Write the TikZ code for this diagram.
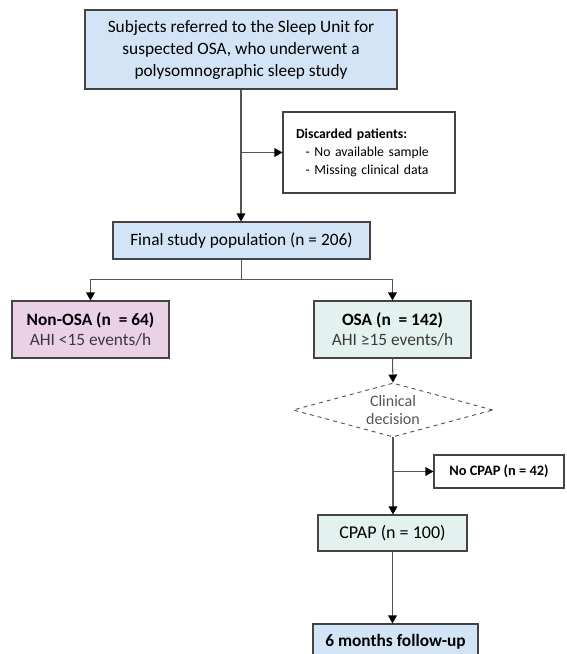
\documentclass[tikz,border=0pt]{standalone}
\usepackage{fontspec}
\setmainfont{Carlito}
\usetikzlibrary{arrows.meta,shapes.geometric,calc}
\definecolor{bluefill}{HTML}{D2E4F5}
\definecolor{pinkfill}{HTML}{EAD1E6}
\definecolor{mintfill}{HTML}{E3F1EF}
\definecolor{edgegray}{HTML}{444444}
\definecolor{linegray}{HTML}{555555}
\definecolor{txtgray}{HTML}{3A3A3A}
\tikzset{
  px/.style={x=0.75pt,y=-0.75pt},
  boxnode/.style={draw=edgegray,line width=0.8pt,align=center,inner sep=0pt,text=black,
    font=\fontsize{13}{16.5}\selectfont},
  conn/.style={draw=linegray,line width=0.8pt,-{Triangle[length=6pt,width=6.5pt,color=black]}},
  plain/.style={draw=linegray,line width=0.8pt},
}
\begin{document}
\begin{tikzpicture}[px]
\useasboundingbox (0,0) rectangle (567,654);
\node[boxnode,fill=bluefill,minimum width=234pt,minimum height=59.25pt] (top) at (241,49.5)
  {Subjects referred to the Sleep Unit for\\suspected OSA, who underwent a\\polysomnographic sleep study};
\node[boxnode,fill=white,minimum height=60.75pt,text width=109.5pt,inner xsep=9.75pt,align=left,
  font=\fontsize{10.3}{13.5}\selectfont] (disc) at (369,152.5)
  {\textbf{Discarded patients:}\\\hspace*{0.7em}- No available sample\\\hspace*{0.7em}- Missing clinical data};
\node[boxnode,fill=bluefill,minimum width=192.75pt,minimum height=27.75pt] (final) at (241.5,240.5)
  {Final study population (n = 206)};
\node[boxnode,fill=pinkfill,minimum width=117.75pt,minimum height=42.75pt,font=\fontsize{13}{15}\selectfont] (nonosa) at (90.5,329.5)
  {\textbf{Non-OSA (n\ \ = 64)}\\\textcolor{txtgray}{AHI <15 events/h}};
\node[boxnode,fill=mintfill,minimum width=117.75pt,minimum height=42.75pt,font=\fontsize{13}{15}\selectfont] (osa) at (392.5,329.5)
  {\textbf{OSA (n\ \ = 142)}\\\textcolor{txtgray}{AHI ≥15 events/h}};
\node[diamond,draw=linegray,dashed,line width=0.7pt,fill=white,minimum width=150pt,minimum height=40.5pt,inner sep=0pt] (dec) at (393,410) {};
\node[align=center,text=linegray,font=\fontsize{12}{13}\selectfont,inner sep=0pt] (dectext) at (dec.center) {Clinical\\decision};
\node[boxnode,fill=white,minimum width=97.5pt,minimum height=24.75pt,font=\fontsize{10.8}{12}\selectfont\bfseries] (nocpap) at (499,471.5)
  {No CPAP (n = 42)};
\node[boxnode,fill=mintfill,minimum width=111.75pt,minimum height=27pt,font=\fontsize{13.5}{16}\selectfont] (cpap) at (392.5,533)
  {CPAP (n = 100)};
\node[boxnode,fill=bluefill,minimum width=123.75pt,minimum height=27pt,font=\fontsize{13}{16.5}\selectfont\bfseries] (fu) at (395.5,642)
  {6 months follow-up};
% connectors
\draw[conn] (top.south) -- (top.south |- final.north);
\draw[conn] (top.south |- disc.west) -- (disc.west);
\coordinate (split) at ($(final.south)+(0,20)$);
\draw[plain] (final.south) -- (split);
\draw[conn] (split) -| (nonosa.north);
\draw[conn] (split) -| (osa.north);
\draw[conn] (osa.south) -- (dec.north);
\draw[conn] (dec.south) -- (dec.south |- cpap.north);
\draw[conn] (dec.south |- nocpap.west) -- (nocpap.west);
\draw[conn] (cpap.south) -- (cpap.south |- fu.north);
\end{tikzpicture}
\end{document}
